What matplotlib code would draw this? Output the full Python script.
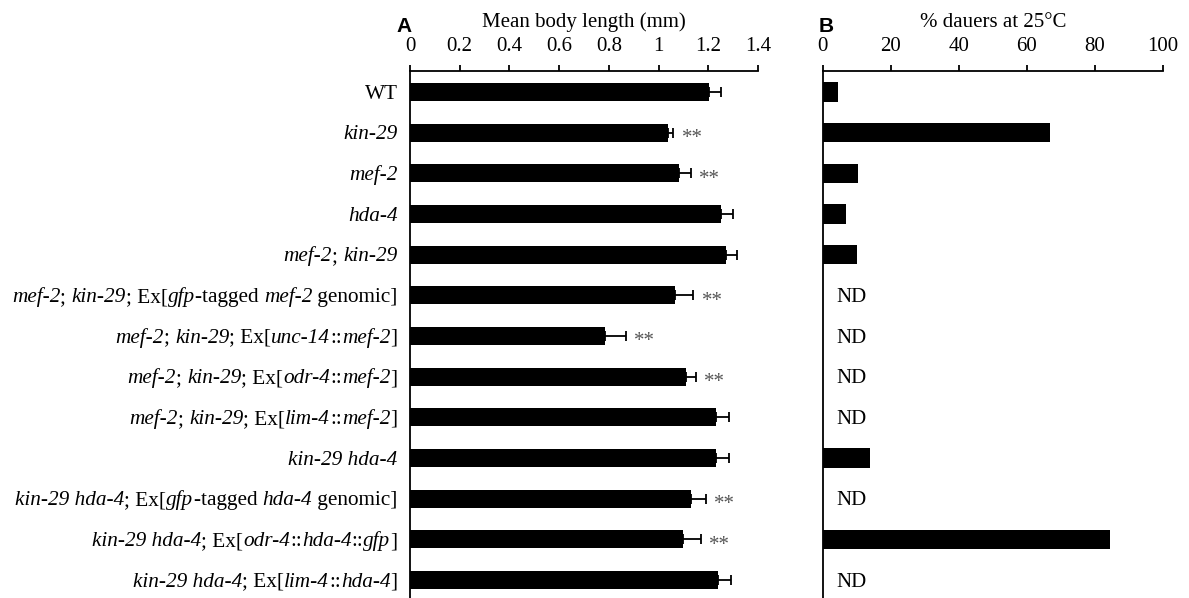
import numpy as np
import matplotlib
matplotlib.use("Agg")
import matplotlib.pyplot as plt

plt.rcParams['font.family'] = ['Liberation Serif', 'DejaVu Serif']
plt.rcParams['font.size'] = 15

# ---------------- data ----------------
categories = [
    [("WT", False)],
    [("kin-29", True)],
    [("mef-2", True)],
    [("hda-4", True)],
    [("mef-2", True), ("; ", False), ("kin-29", True)],
    [("mef-2", True), ("; ", False), ("kin-29", True), ("; Ex[", False), ("gfp", True),
     ("-tagged ", False), ("mef-2", True), (" genomic]", False)],
    [("mef-2", True), ("; ", False), ("kin-29", True), ("; Ex[", False), ("unc-14", True),
     ("::", False), ("mef-2", True), ("]", False)],
    [("mef-2", True), ("; ", False), ("kin-29", True), ("; Ex[", False), ("odr-4", True),
     ("::", False), ("mef-2", True), ("]", False)],
    [("mef-2", True), ("; ", False), ("kin-29", True), ("; Ex[", False), ("lim-4", True),
     ("::", False), ("mef-2", True), ("]", False)],
    [("kin-29 hda-4", True)],
    [("kin-29 hda-4", True), ("; Ex[", False), ("gfp", True), ("-tagged ", False),
     ("hda-4", True), (" genomic]", False)],
    [("kin-29 hda-4", True), ("; Ex[", False), ("odr-4", True), ("::", False),
     ("hda-4", True), ("::", False), ("gfp", True), ("]", False)],
    [("kin-29 hda-4", True), ("; Ex[", False), ("lim-4", True), ("::", False),
     ("hda-4", True), ("]", False)],
]
body_length = [1.203, 1.037, 1.082, 1.25, 1.27, 1.066, 0.784, 1.110, 1.230, 1.230, 1.129, 1.097, 1.238]
body_err = [0.047, 0.022, 0.048, 0.050, 0.044, 0.074, 0.083, 0.040, 0.054, 0.054, 0.060, 0.074, 0.054]
significant = [False, True, True, False, False, True, True, True, False, False, True, True, False]
dauer_pct = [4.4, 66.8, 10.4, 6.9, 10.1, np.nan, np.nan, np.nan, np.nan, 13.9, np.nan, 84.5, np.nan]

ticks_a = [0, 0.2, 0.4, 0.6, 0.8, 1.0, 1.2, 1.4]
ticklabels_a = ["0", "0.2", "0.4", "0.6", "0.8", "1", "1.2", "1.4"]
ticks_b = [0, 20, 40, 60, 80, 100]
ticklabels_b = ["0", "20", "40", "60", "80", "100"]

title_a = "Mean body length (mm)"
title_b = "% dauers at 25°C"

# ---------------- figure ----------------
W, H = 1189, 598
fig = plt.figure(figsize=(W / 100, H / 100), dpi=100)
top_px = 71
axA = fig.add_axes([410 / W, 0, (758 - 410) / W, (H - top_px) / H])
axB = fig.add_axes([822.7 / W, 0, (1163 - 822.7) / W, (H - top_px) / H])

n = len(categories)
pos = np.arange(n)

def style_axis(ax, ticks, labels, xlim, title):
    ax.set_xlim(*xlim)
    ax.set_ylim(12.44, -0.516)
    for s in ("right", "bottom"):
        ax.spines[s].set_visible(False)
    for s in ("top", "left"):
        ax.spines[s].set_linewidth(1.3)
    ax.xaxis.tick_top()
    ax.set_xticks(ticks)
    ax.set_xticklabels(labels)
    ax.tick_params(axis="x", direction="out", length=4.3, width=1.3, pad=6.5, labelsize=15)
    ax.set_yticks([])
    ax.xaxis.set_label_position("top")
    ax.set_xlabel(title, fontsize=15, labelpad=7.5)

# Panel A
axA.barh(pos, body_length, height=0.44, color="black")
axA.errorbar(body_length, pos, xerr=[np.zeros(n), body_err], fmt="none",
             ecolor="black", elinewidth=1.3, capsize=3.8, capthick=1.3)
for i in range(n):
    if significant[i]:
        axA.annotate("**", xy=(body_length[i] + body_err[i], pos[i]),
                     xytext=(6, -7.5), textcoords="offset points",
                     ha="left", va="baseline", fontsize=15, color="#555555",
                     annotation_clip=False)
style_axis(axA, ticks_a, ticklabels_a, (0, 1.4), title_a)

# Category labels (mixed italic / roman), chained right to left
for i, segs in enumerate(categories):
    prev = None
    for text, ital in reversed(segs):
        st = "italic" if ital else "normal"
        if prev is None:
            t = axA.annotate(text, xy=(0, pos[i]), xycoords=("axes fraction", "data"),
                             xytext=(-9, -1.5), textcoords="offset points",
                             ha="right", va="center", fontsize=15.3, style=st,
                             annotation_clip=False)
        else:
            t = axA.annotate(text, xy=(0, 0), xycoords=prev,
                             ha="right", va="bottom", fontsize=15.3, style=st,
                             annotation_clip=False)
        prev = t

# Panel B
dp = np.array(dauer_pct, dtype=float)
has = ~np.isnan(dp)
axB.barh(pos[has], dp[has], height=0.48, color="black")
for i in range(n):
    if not has[i]:
        axB.annotate("ND", xy=(4, pos[i]), xytext=(0, -1.5), textcoords="offset points",
                     ha="left", va="center", fontsize=15)
style_axis(axB, ticks_b, ticklabels_b, (0, 100), title_b)

# Panel letters
fig.text(404 / W, 1 - 32 / H, "A", ha="center", va="baseline", fontsize=15,
         fontweight="bold", family="Liberation Sans")
fig.text(826 / W, 1 - 32 / H, "B", ha="center", va="baseline", fontsize=15,
         fontweight="bold", family="Liberation Sans")

fig.savefig("out.png", dpi=100)
